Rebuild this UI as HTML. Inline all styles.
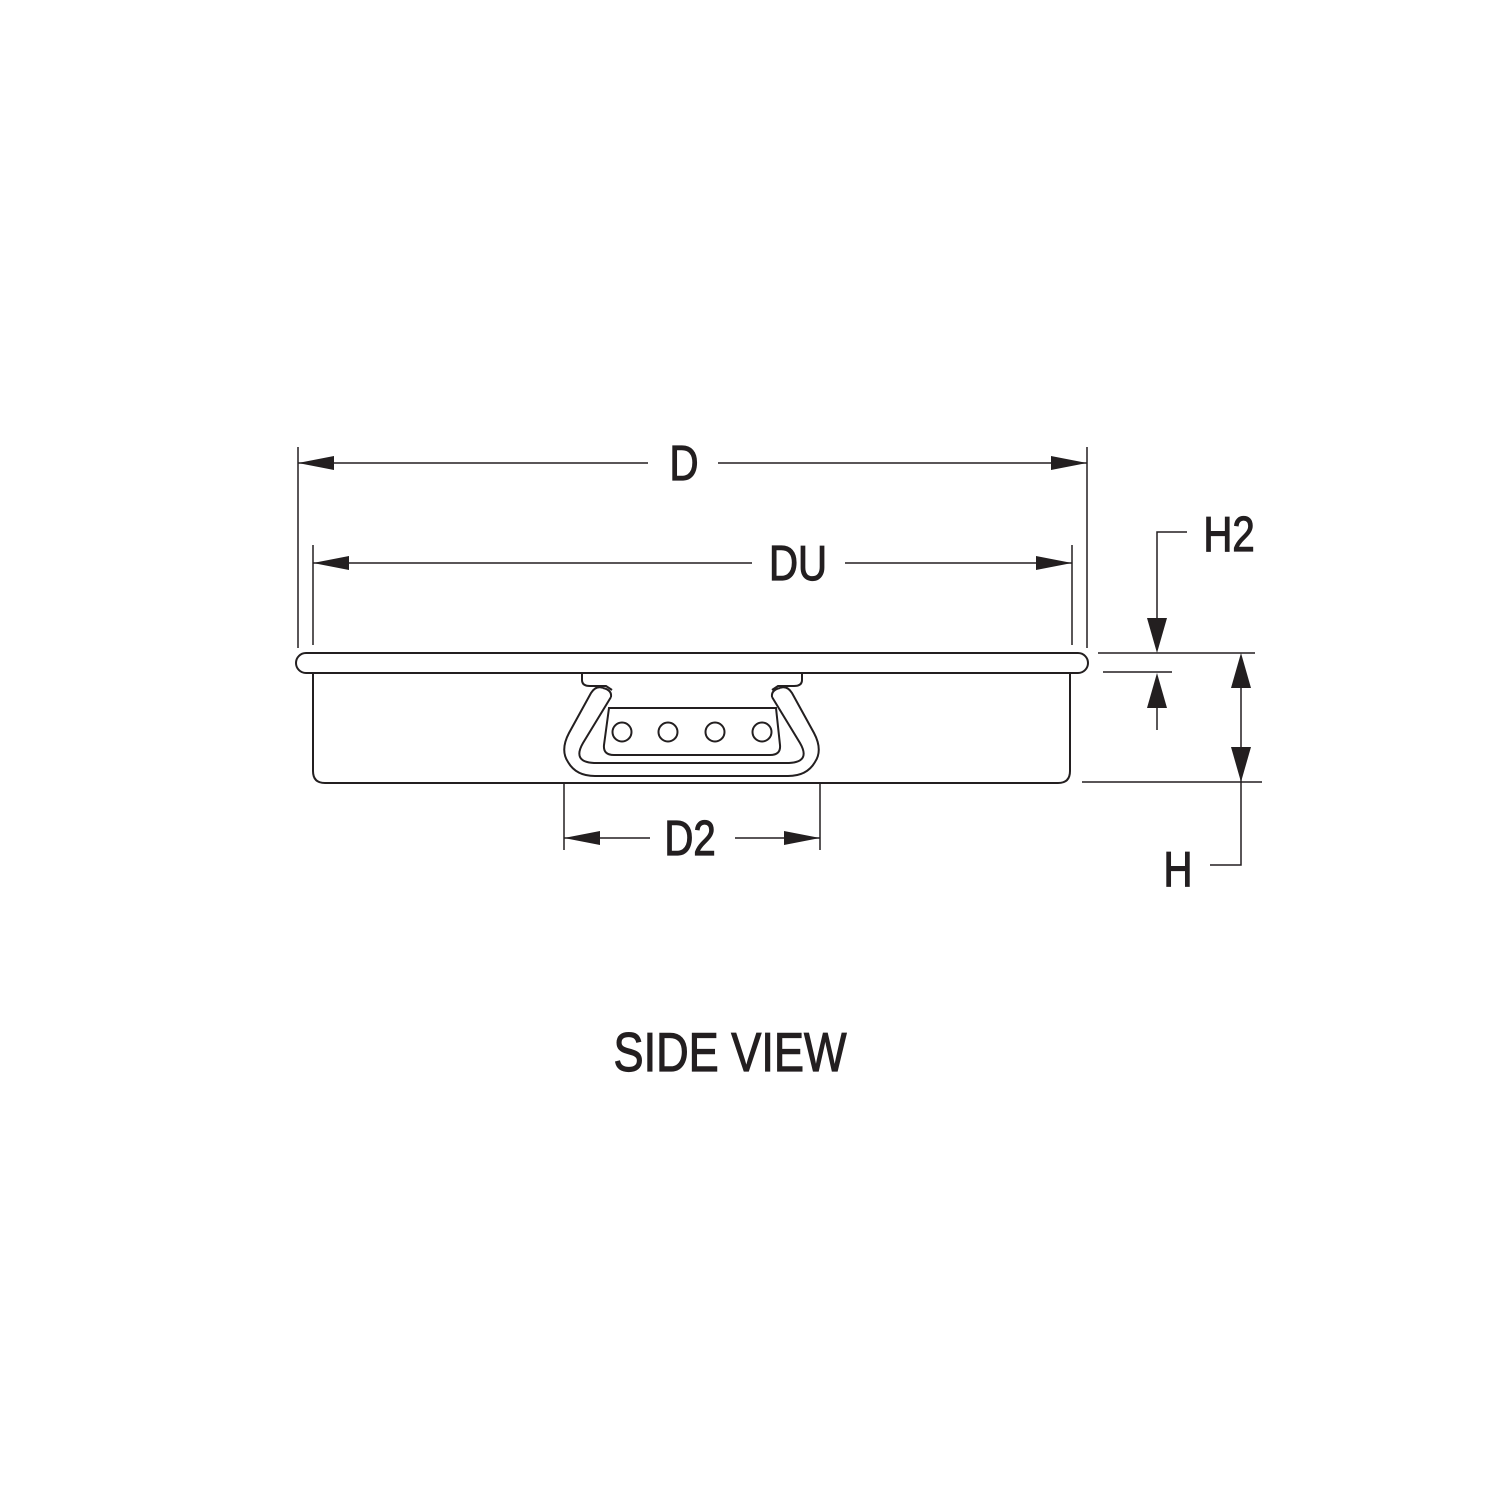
<!DOCTYPE html>
<html><head><meta charset="utf-8"><style>
html,body{margin:0;padding:0;background:#fff;}
svg{display:block}
text{font-family:"Liberation Sans",sans-serif;fill:#231f20;stroke:#231f20;stroke-width:1.2;}
</style></head><body>
<svg width="1500" height="1500" viewBox="0 0 1500 1500" xmlns="http://www.w3.org/2000/svg">
<g stroke="#231f20" fill="none" stroke-width="2">
<rect x="296" y="653" width="792" height="20" rx="10" fill="#fff"/>
<path d="M313 673 V771 Q313 783 325 783 H1058 Q1070 783 1070 771 V673"/>
<path d="M582 673 V680 Q582 686 590 686 H606 L612 690"/>
<path d="M802 673 V680 Q802 686 794 686 H778 L772 690"/>
<path d="M603 688 Q596 685 591 693 L569 733 Q560 750 568 762 Q576 776 595 776 H788 Q807 776 815 762 Q823 750 814 733 L792 693 Q787 685 780 688"/>
<path d="M611 697 L583 743 Q572 762 594 763 H789 Q811 762 800 743 L772 697"/>
<path d="M603 688 Q612 690 611 697"/>
<path d="M780 688 Q771 690 772 697"/>
<path d="M609 708 H776 L780 745 Q781 755 770 755 H614 Q603 755 604 745 Z"/>
<circle cx="622" cy="732" r="9.5"/>
<circle cx="668" cy="732" r="9.5"/>
<circle cx="715" cy="732" r="9.5"/>
<circle cx="762" cy="732" r="9.5"/>
</g>
<g stroke="#231f20" stroke-width="1.5" fill="none">
<line x1="298" y1="447" x2="298" y2="648"/>
<line x1="1087" y1="447" x2="1087" y2="648"/>
<line x1="298" y1="463" x2="648" y2="463"/>
<line x1="718" y1="463" x2="1087" y2="463"/>
<line x1="313" y1="545" x2="313" y2="645"/>
<line x1="1072" y1="545" x2="1072" y2="645"/>
<line x1="313" y1="563" x2="752" y2="563"/>
<line x1="845" y1="563" x2="1072" y2="563"/>
<line x1="564" y1="783" x2="564" y2="850"/>
<line x1="820" y1="783" x2="820" y2="850"/>
<line x1="564" y1="838" x2="650" y2="838"/>
<line x1="735" y1="838" x2="820" y2="838"/>
<line x1="1098" y1="653" x2="1255" y2="653"/>
<line x1="1103" y1="672" x2="1172" y2="672"/>
<line x1="1082" y1="782" x2="1262" y2="782"/>
<polyline points="1187,532 1157,532 1157,640"/>
<line x1="1157" y1="690" x2="1157" y2="730"/>
<polyline points="1241,660 1241,865 1210,865"/>
</g>
<g fill="#231f20">
<polygon points="298,463 334,456 334,470"/>
<polygon points="1087,463 1051,456 1051,470"/>
<polygon points="313,563 349,556 349,570"/>
<polygon points="1072,563 1036,556 1036,570"/>
<polygon points="564,838 600,831 600,845"/>
<polygon points="820,838 784,831 784,845"/>
<polygon points="1157,653 1147,618 1167,618"/>
<polygon points="1157,673 1147,708 1167,708"/>
<polygon points="1241,653 1231,688 1251,688"/>
<polygon points="1241,782 1231,747 1251,747"/>
</g>
<g font-size="49" text-anchor="middle">
<text x="684" y="480" transform="translate(684 0) scale(0.82 1) translate(-684 0)">D</text>
<text x="798" y="580" transform="translate(798 0) scale(0.82 1) translate(-798 0)">DU</text>
<text x="690" y="855" transform="translate(690 0) scale(0.82 1) translate(-690 0)">D2</text>
<text x="1229" y="551" transform="translate(1229 0) scale(0.82 1) translate(-1229 0)">H2</text>
<text x="1178" y="886" transform="translate(1178 0) scale(0.82 1) translate(-1178 0)">H</text>
<text x="730" y="1071" font-size="55" transform="translate(730 0) scale(0.82 1) translate(-730 0)">SIDE VIEW</text>
</g>
</svg>
</body></html>
